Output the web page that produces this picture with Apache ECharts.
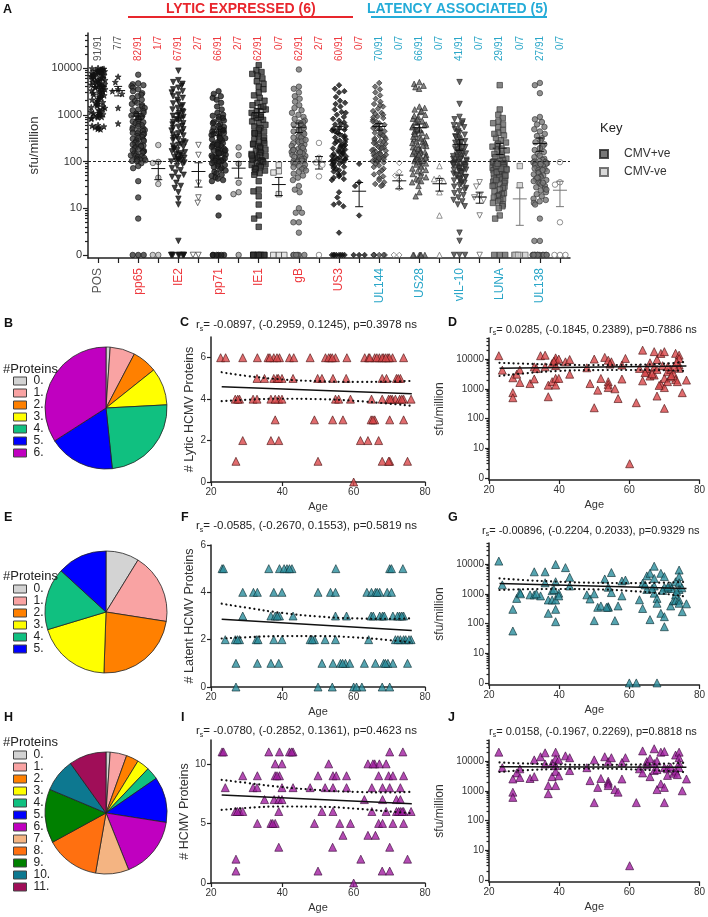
<!DOCTYPE html>
<html><head><meta charset="utf-8">
<script src="https://cdn.jsdelivr.net/npm/echarts@6/dist/echarts.min.js"></script>
<style>html,body{margin:0;padding:0;background:#fff}#c{width:708px;height:917px}</style>
</head><body><div id="c"></div>
<script>
// ================= DATA =================
// Panel A: categories (CMV+ve / CMV-ve columns) and bottom / top labels
const aCategories = ['POS','POS-','pp65','pp65-','IE2','IE2-','pp71','pp71-','IE1','IE1-','gB','gB-','US3','US3-','UL144','UL144-','US28','US28-','vIL-10','vIL-10-','LUNA','LUNA-','UL138','UL138-'];
const aTopLabels = ['91/91','7/7','82/91','1/7','67/91','2/7','66/91','2/7','62/91','0/7','62/91','2/7','60/91','0/7','70/91','0/7','66/91','0/7','41/91','0/7','29/91','0/7','27/91','0/7'];
const aGroups = ['pos','pos','lytic','lytic','lytic','lytic','lytic','lytic','lytic','lytic','lytic','lytic','lytic','lytic','latent','latent','latent','latent','latent','latent','latent','latent','latent','latent'];
const aYTicks = [0, 10, 100, 1000, 10000];

const posP = [10000,9800,9600,9500,9300,9100,9000,8800,8700,8500,8300,8200,8000,7800,7700,7500,7300,7200,7000,6900,6700,6500,6400,6200,6000,5900,5800,5600,5500,5300,5200,5000,4900,4800,4600,4500,4400,4300,4100,4000,3900,3800,3600,3500,3400,3300,3200,3100,3000,2900,2800,2700,2600,2500,2400,2300,2200,2100,2000,1950,1850,1800,1700,1650,1550,1500,1450,1400,1300,1250,1200,1150,1100,1080,1050,1020,1000,980,950,920,900,880,850,820,600,580,560,540,520,500,490];
const posN = [6500,5000,3500,3200,2800,1400,650];
const pp65P = [7200,4700,4500,4300,4100,3800,3500,3200,2900,2700,2500,2300,2100,1950,1800,1700,1600,1500,1400,1300,1250,1200,1100,1050,1000,960,920,880,840,800,760,720,690,660,630,600,570,540,510,490,470,450,430,410,400,390,370,350,335,320,305,290,280,275,260,250,240,230,220,215,210,200,190,182,175,168,165,160,153,147,141,135,132,129,124,119,114,110,108,106,103,101,92,80,72,38,17,6,0,0,0];
const pp65N = [225,98,93,45,33,0,0];
const ie2P = [8800,5500,5000,4600,4200,3800,3500,3200,3000,2700,2500,2300,2100,1900,1750,1600,1500,1400,1300,1200,1150,1100,1000,950,900,850,800,750,700,660,620,580,550,520,490,460,430,400,380,360,340,320,300,285,270,255,240,228,216,205,195,185,175,165,158,150,143,137,131,125,120,115,111,107,104,102,100,95,88,80,72,65,58,52,47,45,35,30,27,22,16,12,2,0,0,0,0,0,0,0,0];
const ie2N = [225,138,35,17,13,0,0];
const pp71P = [3200,2800,2500,2300,2100,1800,1500,1300,1100,1000,950,900,850,800,750,700,660,620,580,550,520,500,470,450,430,410,390,370,350,330,315,300,285,270,258,246,235,225,215,205,196,188,180,172,165,158,152,146,140,134,129,124,120,116,112,108,105,102,100,440,310,230,175,150,118,103,97,92,88,84,80,76,72,68,64,60,56,52,49,46,43,40,38,17,7,0,0,0,0,0,0];
const pp71N = [200,137,90,35,22,20,0];
const ie1P = [11500,9000,8200,7500,6800,6000,5200,4600,4000,3500,3000,2600,2300,2000,1800,1600,1450,1300,1200,1100,1000,920,850,780,720,660,610,560,520,480,440,410,380,350,325,300,280,260,245,230,215,200,190,180,170,160,152,145,138,131,125,120,115,110,106,102,100,1500,900,400,240,135,96,92,88,84,80,76,72,68,64,60,56,52,38,25,23,18,12,7,6,4,0,0,0,0,0,0,0,0,0];
const ie1N = [85,62,58,20,0,0,0];
const gbP = [9300,4000,3600,3000,2500,2200,1900,1600,1400,1250,1100,1000,900,820,750,680,620,570,520,480,440,410,380,350,325,300,280,262,245,230,215,202,190,180,170,160,152,145,138,131,125,120,115,110,106,102,100,700,450,330,270,210,175,148,128,112,640,390,290,195,158,104,97,93,89,85,80,76,72,68,64,60,55,50,45,40,30,25,22,10,8,8,5,5,3,0,0,0,0,0,0];
const gbN = [250,120,95,90,85,48,0];
const us3P = [4300,3600,3000,2400,2000,1700,1500,1300,1150,1000,900,820,750,680,620,570,520,480,440,410,380,350,325,300,280,262,245,230,215,202,190,180,170,160,152,145,138,131,125,120,115,110,106,102,100,3200,1800,1100,640,460,340,270,210,175,150,128,112,104,500,225,97,93,89,85,81,77,73,69,65,61,57,54,51,48,45,42,40,22,17,13,12,11,3,0,0,0,0,0,0,0,0];
const us3N = [89,36,30,7,0,0,0];
const ul144P = [4800,4000,3500,3000,2600,2200,1900,1700,1500,1350,1200,1100,1000,920,850,780,720,660,610,560,520,480,445,410,380,355,330,310,290,272,255,240,226,213,201,190,180,170,161,153,146,139,132,126,120,115,110,106,102,100,1600,1050,700,500,400,300,250,205,175,150,128,112,104,880,580,360,265,195,142,118,95,88,82,76,70,64,58,53,48,44,40,36,33,31,30,0,0,0,0,0,0];
const ul144N = [93,60,50,40,27,0,0];
const us28P = [5000,4600,4200,3900,3600,1500,1300,1150,1000,900,820,750,680,620,570,520,480,440,410,380,350,325,300,280,262,245,230,215,202,190,180,170,160,152,145,138,131,125,120,115,110,106,102,100,1400,950,700,540,430,340,270,220,185,155,128,112,104,600,390,250,165,142,1200,800,460,310,96,91,86,81,76,71,66,62,58,54,50,46,43,40,38,36,30,22,18,0,0,0,0,0,0];
const us28N = [80,45,42,38,22,7,0];
const vil10P = [5000,1700,900,800,720,650,590,540,490,450,410,375,345,320,295,272,252,234,218,203,190,178,167,157,148,140,133,126,120,114,109,105,101,600,420,330,260,200,160,130,112,98,95,94,91,90,87,85,84,81,78,76,75,72,70,67,66,63,61,60,58,56,55,52,50,47,46,44,43,41,39,37,35,33,31,29,27,25,23,21,19,17,15,14,12,11,3,2,0,0,0];
const vil10N = [36,29,18,17,15,7,0];
const lunaP = [4300,1300,1000,850,720,620,540,470,410,360,320,285,255,230,208,190,173,158,145,133,123,115,108,102,100,660,390,240,140,97,95,93,91,89,87,85,83,81,79,77,75,73,71,69,67,65,63,61,59,57,55,53,51,49,47,45,43,41,39,37,35,33,31,29,27,25,23,21,20,19,18,17,16,15,14,13,12,11,10,60,70,80,90,50,40,30,7,6,0,0,0];
const lunaN = [80,31,0,0,0,0,0];
const ul138P = [4800,4300,2900,900,800,700,620,550,490,440,390,350,315,285,258,234,212,193,176,160,146,134,124,115,108,102,100,98,95,92,89,86,83,80,77,74,71,68,65,62,59,56,53,50,48,46,44,42,40,38,36,34,32,30,28,26,24,22,20,18,16,15,14,13,12,88,66,45,35,25,6,2,2,0,0,0,0,0,0,0,0,0,0,0,0,0,0,0,0,0,0];
const ul138N = [97,36,32,5,0,0,0];

// Panels C/F/I: ages of donors grouped by number of proteins recognised (index = count)
const lyticAgesByCount = [
  [60],
  [27,50,68,70.1,75.1,69.8],
  [28.9,36.8,39,61.9,64,67],
  [38,49,54.1,57,64.9,65.9,70.1,74,65.4],
  [26.8,28,31.8,32.9,36.8,39,39.9,54.9,55.8,59.1,65,68,69.8,70.8,71.7,72.9,74,76.1,27.5,38,70.3,73.5],
  [32.9,35,37.6,38.5,39.9,43,49.9,51.1,54.2,57.9,68,69.2,72,73.1,38.9,72.5],
  [22.7,24.1,28.9,33,36,37.6,39.2,42,43.2,47.8,52.1,53.5,54.9,58.1,63.1,64.2,65.9,67.2,68.4,69.6,70.9,74,36.5,38.5,53,54,64.5,66.5,68,70,69]
];
const latentAgesByCount = [
  [27,50,54,60,62.3,68,70.1,60.8],
  [27,33,36.8,39,51.1,54.2,56.3,57.7,58.9,63,66.1,68.4,69.6,71,75.1,56.9,68.9],
  [24,26.8,28,32.7,37.6,39.9,47.8,49,52,54.9,64.2,71.7,73.1,74,76.1,27.4,33.2,48.4,72.4,74.6,75.5],
  [28.9,36.8,38,39.2,43,54.9,58,64.9,67.3,68.1,71,72.9,74,38.6,65.5,68.6,72.3,73.5],
  [28.9,31.9,33,37.6,39.9,50,53.5,54.9,63.7,65,66.1,67.3,69.4,70.6,66.6],
  [23.1,36.2,39.2,41.3,42.7,55,70.1,73.8,23.5,40.5,42,70.6]
];
const totalAgesByCount = [
  [60],
  [27,50,68,70.1],
  [27,62,75.1],
  [39,54.1,70.1],
  [57,64,66.1],
  [33,36.8,38,49,56.1,59.1,67,68.1,71,74,37.3],
  [26.8,28,28.9,39,51.1,54.2,65.1,69.1,72,73.1,74,76.1,27.4,72.6,73.6],
  [35,37.7,39,39.9,63,68.1,72,73.1],
  [24,31.8,32.9,39.9,43,47.8,52,54.2,58,65.1,68.1,70.1,73.1],
  [28.9,33,38,39.2,50,54.2,55.1,58,67,69.8,71,74,38.5],
  [38,39.9,53,64,65.9,67.2,69.1,65.4],
  [23.1,36.2,39.2,42,43,70.1,73.8,42.6,23.5]
];

// Panels D/G/J: [age, sfu/million]
const lyticSfu = [[22.8,13000],[23.8,4250],[26.8,2350],[26.8,740],[26.8,500],[27.9,3100],[28.8,4300],[28.8,1630],[31.7,1500],[32.9,2140],[32.9,5500],[34.7,13000],[36,13500],[36,5500],[36.9,1320],[36.9,540],[38,1740],[38,7100],[39,9300],[39,11000],[39,6000],[39,2250],[39,1330],[39.9,10000],[39.9,2240],[41.8,8100],[43,9700],[43,3100],[47.9,5100],[48.8,1500],[50,10000],[50,230],[51,900],[51.9,2230],[53,11400],[54,9200],[54,1740],[54,1400],[54,1100],[54.9,8100],[55.9,1000],[56.8,470],[57.9,2130],[58.9,10500],[57.9,6300],[60.1,3],[62,340],[62.9,4860],[63.8,20000],[63.8,1850],[65,3750],[65,4900],[65.9,7500],[65.9,2680],[67.1,17800],[67.1,5300],[67.1,2900],[67.9,4500],[67.9,9700],[67.9,570],[69,15500],[69,1440],[70,17800],[70,2240],[70,1100],[70,220],[70.9,1740],[70.9,3740],[71.8,4500],[72.6,3300],[73.2,15600],[73.2,2060],[74.2,13600],[74.2,10500],[74.2,6300],[74.2,4870],[73.7,1740],[75.1,740],[76.3,1960],[71.8,2500],[72.8,5500],[66.5,3200],[69.5,6000],[72,2800],[73.5,8000],[71,5600],[33.5,4800],[38.5,8500],[54.5,6800],[64.5,3500],[68.5,1300]];
const latentSfu = [[22.8,12600],[23.8,2000],[26.8,300],[26.8,56],[27.9,700],[28.8,1100],[31.7,920],[32.9,5500],[32.9,920],[34.7,850],[36,5500],[36,2350],[36.9,220],[36.9,620],[38,1270],[38,620],[39,9700],[39,2550],[39,620],[39,300],[39,115],[39.9,1050],[39.9,850],[41.8,7600],[43,3600],[43,1830],[47.9,920],[48.8,670],[50,1000],[50,125],[51,350],[51.9,390],[53,3160],[54,370],[54,350],[54,1660],[54.9,5200],[54.9,1100],[55.9,125],[56.8,390],[57.9,850],[57.9,2700],[58.9,2900],[60,0],[62,0],[62.9,630],[63.8,2250],[63.8,320],[65,4000],[65,1400],[65.9,4900],[65.9,135],[67.1,8500],[67.1,3300],[67.1,1830],[67.1,1050],[67.9,700],[67.9,480],[67.9,0],[69,4900],[69,220],[70,3800],[70,1660],[70,170],[70,78],[70.9,1520],[71.8,1830],[71.8,390],[72.6,580],[73.2,2550],[73.2,920],[73.2,590],[74.2,6300],[74.2,3800],[74.2,2350],[74.2,1400],[74.2,620],[74.2,480],[75.1,250],[76.3,460],[38.5,1400],[33.5,1000],[29,1000],[66.5,1500],[69.5,1300],[72,1500],[73.5,1200],[64.5,2000],[53.5,350],[75,1600],[71,1700]];
const totalSfu = [[22.8,20000],[23.8,6000],[26.8,2500],[26.8,900],[26.8,600],[27.9,4000],[28.8,5500],[28.8,2800],[31.7,2600],[32.9,3000],[32.9,11000],[34.7,14000],[36,19000],[36,8000],[36.9,1500],[36.9,800],[38,3000],[38,8500],[39,12000],[39,20000],[39,7000],[39,4500],[39,1500],[39.9,11000],[39.9,3200],[41.8,15000],[43,13000],[43,4800],[47.9,6000],[48.8,2200],[50,11000],[50,400],[51,1300],[51.9,2600],[53,14000],[54,9600],[54,2100],[54,1800],[54,1500],[54.9,13000],[55.9,1100],[56.8,900],[57.9,2500],[58.9,13000],[57.9,9000],[60.1,3],[62,400],[62.9,5500],[63.8,22000],[63.8,4000],[65,7500],[65,9600],[65.9,12000],[65.9,3000],[67.1,26000],[67.1,8300],[67.1,4800],[67.9,5200],[67.9,10000],[67.9,1100],[69,20000],[69,1700],[70,21000],[70,6000],[70,1300],[70,400],[70.9,3300],[70.9,5500],[71.8,6300],[72.6,3900],[73.2,16000],[73.2,4600],[74.2,20000],[74.2,13000],[74.2,8500],[74.2,6000],[73.7,3500],[75.1,1000],[76.3,2500]];

// Regression lines: ages at the CI sample points, fit ends, CI bands
const ciAges = [23, 30, 40, 50, 60, 70, 76.3];
const fitAges = [23, 76.3];
const cFit = [4.6, 4.26], cUpper = [5.3,5.12,4.95,4.87,4.83,4.85,4.88], cLower = [3.9,3.97,4.02,4.0,3.92,3.78,3.68];
const fFit = [2.86, 2.39], fUpper = [3.52,3.35,3.13,2.98,2.9,2.88,2.9], fLower = [2.05,2.1,2.15,2.15,2.1,1.98,1.88];
const iFit = [7.39, 6.64], iUpper = [8.66,8.4,8.05,7.8,7.65,7.6,7.65], iLower = [6.13,6.3,6.42,6.4,6.25,6.0,5.85];
const dFit = [4870, 5800], dUpper = [7500,7000,6500,6300,6400,7000,8100], dLower = [2700,3300,4000,4250,4300,4200,3950];
const gFit = [2240, 1520], gUpper = [3300,2900,2550,2350,2300,2380,2520], gLower = [1340,1420,1450,1410,1250,1000,800];
const jFit = [6500, 6200], jUpper = [9000,8300,7700,7500,7600,8200,8800], jLower = [4300,4900,5400,5600,5300,4700,4200];

// Pie category names
const pieNames = ['0.','1.','2.','3.','4.','5.','6.','7.','8.','9.','10.','11.'];

// Stats strings
const statC = '= -0.0897, (-0.2959, 0.1245), p=0.3978 ns';
const statD = '= 0.0285, (-0.1845, 0.2389), p=0.7886 ns';
const statF = '= -0.0585, (-0.2670, 0.1553), p=0.5819 ns';
const statG = '= -0.00896, (-0.2204, 0.2033), p=0.9329 ns';
const statI = '= -0.0780, (-0.2852, 0.1361), p=0.4623 ns';
const statJ = '= 0.0158, (-0.1967, 0.2269), p=0.8818 ns';

// ================= STYLE =================
const FONT = '"Liberation Sans", Arial, Helvetica, sans-serif';
const RED = '#e8262d', CYAN = '#25acd8', RED_T = '#ee3a3f', CYAN_T = '#2aa6c8', GREY_T = '#555';
const PIE_COLORS = ['#d3d3d3','#f9a3a3','#ff8000','#ffff00','#10c080','#0000ff','#c000c0','#f4b482','#ff7010','#008000','#0d7890','#a00e58'];
const STAR = 'path://M0,-10 L2.4,-3.2 9.5,-3.1 3.8,1.2 5.9,8.1 0,4 -5.9,8.1 -3.8,1.2 -9.5,-3.1 -2.4,-3.2Z';
const aStyles = [
  {symbol:STAR, fill:'#111', stroke:'#111', size:6},
  {symbol:STAR, fill:'#111', stroke:'#111', size:6},
  {symbol:'circle', fill:'#3a3a3a', stroke:'#111'},
  {symbol:'circle', fill:'#bbb', stroke:'#333'},
  {symbol:'triangle', rot:180, fill:'#111', stroke:'#111'},
  {symbol:'triangle', rot:180, fill:'#fff', stroke:'#222'},
  {symbol:'circle', fill:'#222', stroke:'#111'},
  {symbol:'circle', fill:'#999', stroke:'#222'},
  {symbol:'rect', fill:'#333', stroke:'#111'},
  {symbol:'rect', fill:'#ddd', stroke:'#333'},
  {symbol:'circle', fill:'#777', stroke:'#333'},
  {symbol:'circle', fill:'#fff', stroke:'#555'},
  {symbol:'diamond', fill:'#111', stroke:'#111'},
  {symbol:'diamond', fill:'#111', stroke:'#111'},
  {symbol:'diamond', fill:'#555', stroke:'#222'},
  {symbol:'diamond', fill:'#fff', stroke:'#555'},
  {symbol:'triangle', fill:'#666', stroke:'#222'},
  {symbol:'triangle', fill:'#fff', stroke:'#555'},
  {symbol:'triangle', rot:180, fill:'#444', stroke:'#222'},
  {symbol:'triangle', rot:180, fill:'#fff', stroke:'#444'},
  {symbol:'rect', fill:'#666', stroke:'#333'},
  {symbol:'rect', fill:'#ccc', stroke:'#555'},
  {symbol:'circle', fill:'#777', stroke:'#333'},
  {symbol:'circle', fill:'#fff', stroke:'#555'}
];
const aColumns = [posP,posN,pp65P,pp65N,ie2P,ie2N,pp71P,pp71N,ie1P,ie1N,gbP,gbN,us3P,us3N,ul144P,ul144N,us28P,us28N,vil10P,vil10N,lunaP,lunaN,ul138P,ul138N];

const L = v => (v > 1 ? Math.log10(v) : 0);
const logTickVals = aYTicks.map(L);
const minorLog = [];
for (let d = 0; d < 5; d++) for (let k = 2; k < 10; k++) minorLog.push(d + Math.log10(k));
const logFmt = v => { const i = logTickVals.findIndex(t => Math.abs(t - v) < 1e-6); return i >= 0 ? String(aYTicks[i]) : ''; };
const groupColor = g => g === 'pos' ? GREY_T : (g === 'lytic' ? RED_T : CYAN_T);

const axLine = {show:true, onZero:false, lineStyle:{color:'#222', width:1.5}};
const axTick = (len, extra) => Object.assign({show:true, length:len, lineStyle:{color:'#222', width:1.2}}, extra||{});
const lbl = (size, extra) => Object.assign({fontFamily:FONT, fontSize:size, color:'#333'}, extra||{});

// ================= AXES =================
const grids = [
  {left:88, top:33, width:482, height:225},
  {left:211, top:337, width:214, height:145},
  {left:489, top:338, width:213, height:142},
  {left:211, top:545, width:214, height:142},
  {left:489, top:543, width:213, height:142},
  {left:211, top:740, width:214, height:143},
  {left:489, top:740, width:213, height:142}
];
const xAxes = [
  {type:'category', gridIndex:0, data:aCategories, boundaryGap:true, jitter:16, jitterOverlap:false, jitterMargin:0,
   axisLine:axLine, axisTick:axTick(5,{alignWithLabel:true, interval:0}),
   axisLabel:lbl(12,{interval:0, rotate:90, margin:10, formatter:(v,i)=> (i%2===0 ? v : ''), color:(v,i)=>groupColor(aGroups[i])}),
   splitLine:{show:false}},
  {type:'category', gridIndex:0, position:'top', data:aCategories, boundaryGap:true,
   axisLine:{show:false}, axisTick:{show:false},
   axisLabel:lbl(10,{inside:true, interval:0, rotate:90, margin:3, formatter:(v,i)=>aTopLabels[i], color:(v,i)=>groupColor(aGroups[i])}),
   splitLine:{show:false}}
];
function ageAxis(g){
  return {type:'value', gridIndex:g, min:20, max:80, interval:20, name:'Age', nameLocation:'middle', nameGap:19,
    nameTextStyle:lbl(11,{color:'#333'}), axisLine:axLine, axisTick:axTick(4), axisLabel:lbl(10,{margin:5}), splitLine:{show:false}};
}
for (let g = 1; g <= 6; g++) xAxes.push(ageAxis(g));

const yAxes = [
  {type:'value', gridIndex:0, position:'left', min:-0.065, max:4.75, name:'sfu/million', nameLocation:'middle', nameGap:46, nameRotate:90,
   nameTextStyle:lbl(13), axisLine:axLine, axisTick:axTick(5,{customValues:logTickVals}),
   axisLabel:lbl(11,{customValues:logTickVals, formatter:logFmt, margin:6}), splitLine:{show:false}},
  {type:'value', gridIndex:0, position:'left', min:-0.065, max:4.75, axisLine:{show:false},
   axisTick:axTick(3,{customValues:minorLog.filter(v=>v<4.75)}), axisLabel:{show:false}, splitLine:{show:false}}
];
function countAxis(g, max, ticks, name){
  return {type:'value', gridIndex:g, position:'left', min:0, max, name, nameLocation:'middle', nameGap:15, nameRotate:90,
    nameTextStyle:lbl(12.5), axisLine:axLine, axisTick:axTick(4,{customValues:ticks}),
    axisLabel:lbl(10,{customValues:ticks, margin:5}), splitLine:{show:false}};
}
function logAxis(g, min, max){
  return [{type:'value', gridIndex:g, position:'left', min, max, name:'sfu/million', nameLocation:'middle', nameGap:43, nameRotate:90,
    nameTextStyle:lbl(12), axisLine:axLine, axisTick:axTick(4,{customValues:logTickVals}),
    axisLabel:lbl(10,{customValues:logTickVals, formatter:logFmt, margin:5}), splitLine:{show:false}},
   {type:'value', gridIndex:g, position:'left', min, max, axisLine:{show:false},
    axisTick:axTick(2.5,{customValues:minorLog.filter(v=>v<max)}), axisLabel:{show:false}, splitLine:{show:false}}];
}
yAxes.push(countAxis(1, 7, [0,2,4,6], '# Lytic HCMV Proteins'));   // 2
yAxes.push(...logAxis(2, -0.07, 4.71));                              // 3,4
yAxes.push(countAxis(3, 6, [0,2,4,6], '# Latent HCMV Proteins'));  // 5
yAxes.push(...logAxis(4, -0.07, 4.71));                              // 6,7
yAxes.push(countAxis(5, 12, [0,5,10], '# HCMV Proteins'));          // 8
yAxes.push(...logAxis(6, -0.07, 4.71));                              // 9,10

// ================= SERIES =================
const series = [];
aColumns.forEach((vals, i) => {
  const st = aStyles[i];
  const s = {type:'scatter', name:aCategories[i], xAxisIndex:0, yAxisIndex:0, silent:true,
    data: vals.map(v => [i, L(v)]), symbol:st.symbol, symbolRotate:st.rot||0, symbolSize:st.size||5.5,
    itemStyle:{color:st.fill, borderColor:st.stroke, borderWidth:0.8}, z:3};
  if (i === 0) s.markLine = {silent:true, symbol:'none', label:{show:false}, animation:false,
      lineStyle:{color:'#222', type:[3,2], width:1}, data:[{yAxis:L(100)}]};
  series.push(s);
});
// mean +/- SEM for each column
const ebData = aColumns.map((vals, i) => {
  const n = vals.length, m = vals.reduce((a,b)=>a+b,0)/n;
  const sd = Math.sqrt(vals.reduce((a,b)=>a+(b-m)*(b-m),0)/(n-1)), se = sd/Math.sqrt(n);
  return [i, L(m), L(m-se), L(m+se)];
});
series.push({type:'custom', xAxisIndex:0, yAxisIndex:0, silent:true, z:6, data:ebData,
  renderItem:(p, api) => {
    const x = api.value(0), c = api.coord([x, api.value(1)]), lo = api.coord([x, api.value(2)]), hi = api.coord([x, api.value(3)]);
    const col = (x === 21 || x === 23) ? '#777' : '#111';
    const st = {stroke:col, lineWidth:1};
    const ln = (x1,y1,x2,y2) => ({type:'line', shape:{x1,y1,x2,y2}, style:st});
    return {type:'group', children:[ln(c[0]-7,c[1],c[0]+7,c[1]), ln(lo[0],lo[1],hi[0],hi[1]), ln(lo[0]-4,lo[1],lo[0]+4,lo[1]), ln(hi[0]-4,hi[1],hi[0]+4,hi[1])]};
  }});
// legend helper series for Key
series.push({type:'scatter', name:'CMV+ve', xAxisIndex:0, yAxisIndex:0, data:[], symbol:'rect', itemStyle:{color:'#555', borderColor:'#222', borderWidth:1}});
series.push({type:'scatter', name:'CMV-ve', xAxisIndex:0, yAxisIndex:0, data:[], symbol:'rect', itemStyle:{color:'#d0d0d0', borderColor:'#555', borderWidth:1}});

function triScatter(xi, yi, data, color, stroke){
  return {type:'scatter', xAxisIndex:xi, yAxisIndex:yi, silent:true, data, symbol:'triangle', symbolSize:8,
    itemStyle:{color, borderColor:stroke, borderWidth:0.8}, z:3, clip:false};
}
function fitLines(xi, yi, fit, up, low, tf){
  const base = {type:'line', xAxisIndex:xi, yAxisIndex:yi, silent:true, symbol:'none', z:5, animation:false};
  return [
    Object.assign({}, base, {data: fitAges.map((a,k)=>[a, tf(fit[k])]), lineStyle:{color:'#111', width:1.5}}),
    Object.assign({}, base, {smooth:true, data: ciAges.map((a,k)=>[a, tf(up[k])]), lineStyle:{color:'#111', width:2.2, type:[0.1,4.6], cap:'round'}}),
    Object.assign({}, base, {smooth:true, data: ciAges.map((a,k)=>[a, tf(low[k])]), lineStyle:{color:'#111', width:2.2, type:[0.1,4.6], cap:'round'}})
  ];
}
const byCount = arr => { const out = []; arr.forEach((ages, c) => ages.forEach(a => out.push([a, c]))); return out; };
const id = v => v;
const logPts = arr => arr.map(p => [p[0], L(p[1])]);
const C_RED = '#d8474a', C_TEAL = '#2a8d9c', C_PUR = '#a11ea0';
series.push(triScatter(2, 2, byCount(lyticAgesByCount), C_RED, '#4a1010'), ...fitLines(2, 2, cFit, cUpper, cLower, id));
series.push(triScatter(3, 3, logPts(lyticSfu), C_RED, '#4a1010'), ...fitLines(3, 3, dFit, dUpper, dLower, L));
series.push(triScatter(4, 5, byCount(latentAgesByCount), C_TEAL, '#0d2e33'), ...fitLines(4, 5, fFit, fUpper, fLower, id));
series.push(triScatter(5, 6, logPts(latentSfu), C_TEAL, '#0d2e33'), ...fitLines(5, 6, gFit, gUpper, gLower, L));
series.push(triScatter(6, 8, byCount(totalAgesByCount), C_PUR, '#3a0a3a'), ...fitLines(6, 8, iFit, iUpper, iLower, id));
series.push(triScatter(7, 9, logPts(totalSfu), C_PUR, '#3a0a3a'), ...fitLines(7, 9, jFit, jUpper, jLower, L));

function pie(center, counts){
  return {type:'pie', center, radius:61, startAngle:90, clockwise:true, silent:true, animation:false,
    label:{show:false}, labelLine:{show:false}, itemStyle:{borderColor:'#222', borderWidth:0.8},
    data: counts.map((c,i)=>({name:pieNames[i], value:c, itemStyle:{color:PIE_COLORS[i]}}))};
}
series.push(pie([106,408], lyticAgesByCount.map(a=>a.length)));
series.push(pie([106,612], latentAgesByCount.map(a=>a.length)));
series.push(pie([106,813], totalAgesByCount.map(a=>a.length)));

// ================= TEXT =================
const letter = (t, left, top) => ({text:t, left, top, padding:0, textStyle:{fontFamily:FONT, fontSize:12.5, fontWeight:'bold', color:'#111'}});
const statTitle = (s, left, top, size) => ({text:'{a|r}{s|s}{a|' + s + '}', left, top, padding:0,
  textStyle:{fontWeight:'normal', rich:{a:{fontFamily:FONT, fontSize:size, fontWeight:'normal', color:'#222', lineHeight:14, verticalAlign:'bottom', padding:[0,0,2,0]},
                   s:{fontFamily:FONT, fontSize:7, fontWeight:'normal', color:'#222', lineHeight:8, verticalAlign:'bottom'}}}});
const plainTitle = (t, left, top, size, color, weight) => ({text:t, left, top, padding:0, textStyle:{fontFamily:FONT, fontSize:size, color, fontWeight:weight||'normal'}});
const titles = [
  letter('A',3,3), letter('B',4,317), letter('C',180,316), letter('D',448,316),
  letter('E',4,511), letter('F',181,511), letter('G',448,511), letter('H',4,711), letter('I',181,711), letter('J',448,711),
  plainTitle('LYTIC EXPRESSED (6)', 166, 2, 14, RED, 'bold'),
  plainTitle('LATENCY ASSOCIATED (5)', 367, 2, 14, CYAN, 'bold'),
  plainTitle('Key', 600, 122, 13, '#222'),
  plainTitle('#Proteins', 3, 363, 13, '#222'),
  plainTitle('#Proteins', 3, 570, 13, '#222'),
  plainTitle('#Proteins', 3, 736, 13, '#222'),
  statTitle(statC, 196, 319, 11.5), statTitle(statD, 489, 323, 11), statTitle(statF, 196, 520, 11.5),
  statTitle(statG, 482, 524, 11), statTitle(statI, 196, 725, 11.5), statTitle(statJ, 489, 725, 11)
];
const pieLegend = (names, top) => ({data:names, orient:'vertical', left:13, top, padding:0, itemGap:0, itemWidth:13, itemHeight:8,
  icon:'rect', selectedMode:false, textStyle:{fontFamily:FONT, fontSize:12, color:'#222', lineHeight:11.6, padding:[0,0,0,2]},
  itemStyle:{borderColor:'#444', borderWidth:1}});
const legends = [
  {data:['CMV+ve','CMV-ve'], orient:'vertical', left:599, top:148, padding:0, itemGap:6, itemWidth:8, itemHeight:8, icon:'rect',
   selectedMode:false, textStyle:{fontFamily:FONT, fontSize:12, color:'#333', padding:[0,0,0,11]}},
  pieLegend(pieNames.slice(0,7), 375),
  pieLegend(pieNames.slice(0,6), 583),
  pieLegend(pieNames.slice(0,12), 749)
];

const chart = echarts.init(document.getElementById('c'), null, {renderer:'canvas'});
chart.setOption({
  animation:false, backgroundColor:'#fff',
  title:titles, legend:legends, grid:grids, xAxis:xAxes, yAxis:yAxes, series,
  graphic:[
    {type:'line', shape:{x1:128,y1:17,x2:353,y2:17}, style:{stroke:RED, lineWidth:2}},
    {type:'line', shape:{x1:371,y1:17,x2:547,y2:17}, style:{stroke:CYAN, lineWidth:2}}
  ]
});
</script></body></html>
